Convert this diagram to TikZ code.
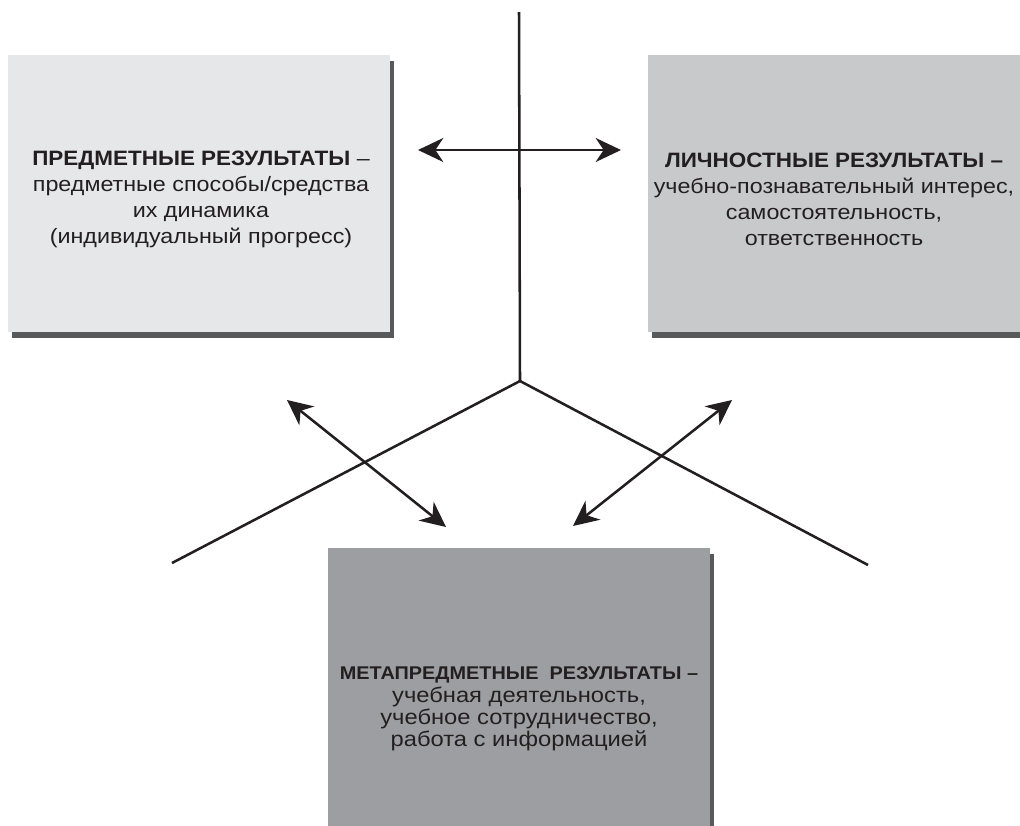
\documentclass[tikz,border=0pt]{standalone}
\usepackage{fontspec}
\setmainfont{Liberation Sans}
\newfontfamily\widesans[FakeStretch=1.12]{Liberation Sans}
\newfontfamily\boldsans[FakeStretch=1.08]{Liberation Sans Bold}
\usetikzlibrary{arrows.meta}
\definecolor{boxA}{HTML}{E6E7E8}
\definecolor{boxB}{HTML}{C8C9CB}
\definecolor{boxC}{HTML}{9D9EA1}
\definecolor{shade}{HTML}{58595B}
\definecolor{ink}{HTML}{231F20}
\begin{document}
\begin{tikzpicture}[x=0.75pt,y=-0.75pt,
  plain/.style={draw=none, inner sep=0pt, outer sep=0pt},
  axis/.style={ink, line width=1.9pt},
  dbl/.style={ink, line width=1.9pt, {Stealth[length=19pt,width=18pt,inset=6pt]}-{Stealth[length=19pt,width=18pt,inset=6pt]}},
  bigtxt/.style={plain, align=center, text=ink, font=\widesans\fontsize{15.6}{19.5}\selectfont},
  smalltxt/.style={plain, align=center, text=ink, font=\widesans\fontsize{15.9}{16.8}\selectfont}
]
\useasboundingbox (0,0) rectangle (1020,825);
\clip (0,0) rectangle (1020,825);

% shadows and boxes
\node[plain, fill=shade, minimum width=286.5pt, minimum height=207.75pt] (predS) at (203,199.5) {};
\node[plain, fill=boxA, minimum width=286.5pt, minimum height=207.75pt] (pred) at (199,193.5) {};
\node[plain, fill=shade, minimum width=290.25pt, minimum height=207.75pt] (lichS) at (845.5,199.5) {};
\node[plain, fill=boxB, minimum width=290.25pt, minimum height=207.75pt] (lich) at (841.5,193.5) {};
\node[plain, fill=shade, minimum width=286.5pt, minimum height=241.5pt] (metaS) at (523,715) {};
\node[plain, fill=boxC, minimum width=286.5pt, minimum height=241.5pt] (meta) at (519,709) {};

% texts
\node[bigtxt] (predT) at (201,199) {{\boldsans ПРЕДМЕТНЫЕ РЕЗУЛЬТАТЫ} –\\предметные способы/средства\\их динамика\\(индивидуальный прогресс)};
\node[bigtxt] (lichT) at (834,199) {{\boldsans ЛИЧНОСТНЫЕ РЕЗУЛЬТАТЫ –}\\учебно-познавательный интерес,\\самостоятельность,\\ответственность};
\node[smalltxt] (metaT) at (519,709) {{\boldsans\fontsize{13.8}{16.8}\selectfont МЕТАПРЕДМЕТНЫЕ\ \ РЕЗУЛЬТАТЫ –}\\учебная деятельность,\\учебное сотрудничество,\\работа с информацией};

% axes
\coordinate (top) at (519,12);
\coordinate (hub) at (520,381);
\coordinate (leftEnd) at (172,563);
\coordinate (rightEnd) at (868,565);
\draw[axis] (top) -- (hub);
\draw[axis] (hub) -- (leftEnd);
\draw[axis] (hub) -- (rightEnd);

% arrows
\coordinate (hA) at (418,150);
\coordinate (hB) at (621,150);
\coordinate (lA) at (287,400);
\coordinate (lB) at (446,527);
\coordinate (rA) at (732,400);
\coordinate (rB) at (573,526);
\draw[dbl] (hA) -- (hB);
\draw[dbl] (lA) -- (lB);
\draw[dbl] (rA) -- (rB);
\end{tikzpicture}
\end{document}
